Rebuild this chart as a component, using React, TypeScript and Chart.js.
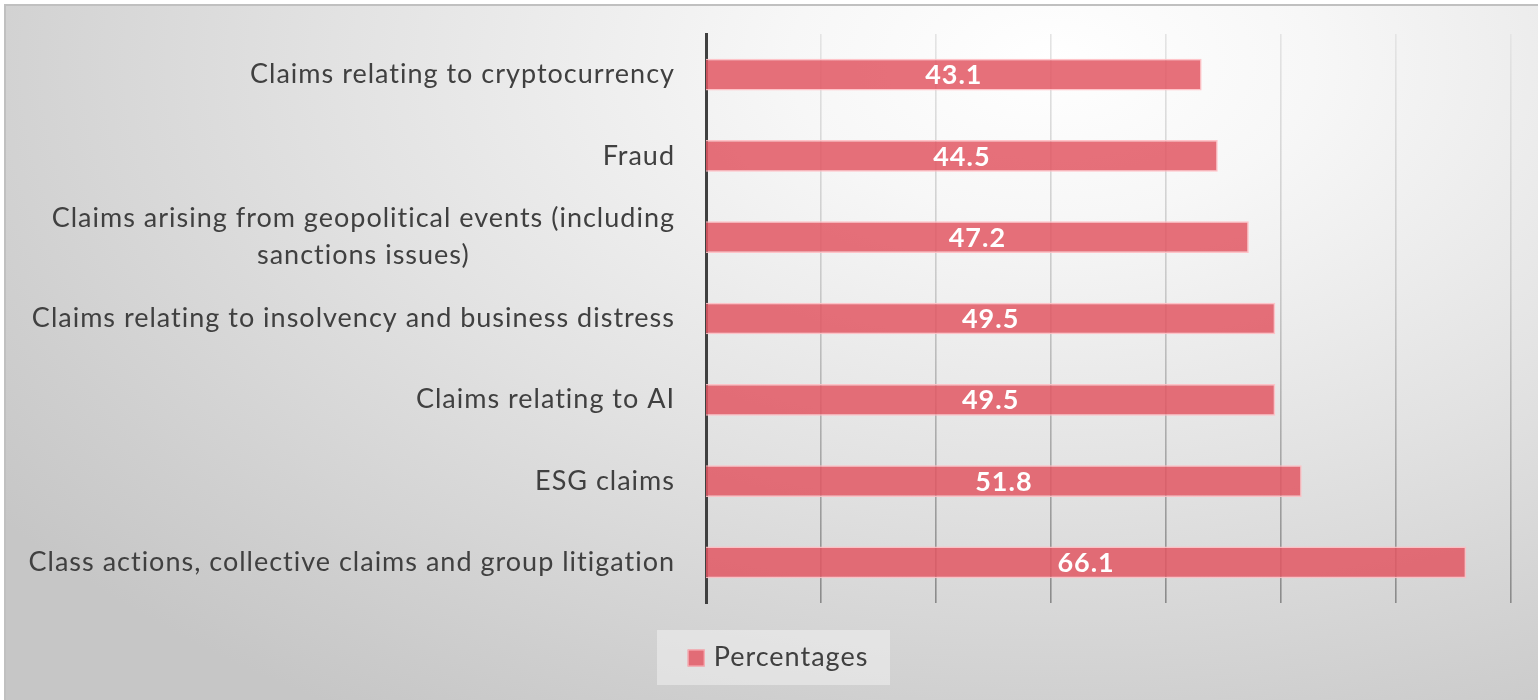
import React, { useEffect, useRef } from "react";
import { Chart, registerables } from "chart.js";

Chart.register(...registerables);

const categories: (string | string[])[] = [
  "Claims relating to cryptocurrency",
  "Fraud",
  ["Claims arising from geopolitical events (including", "sanctions issues)"],
  "Claims relating to insolvency and business distress",
  "Claims relating to AI",
  "ESG claims",
  "Class actions, collective claims and group litigation",
];
const percentages = [43.1, 44.5, 47.2, 49.5, 49.5, 51.8, 66.1];
const seriesName = "Percentages";
const axisMin = 0;
const axisMax = 70;
const axisStep = 10;

const FONT = "Lato, 'Open Sans', sans-serif";
const TEXT_COLOR = "#404040";

const W = 1538;
const H = 700;

const labelPlugin = {
  id: "customLabels",
  afterDraw(chart: any) {
    const c = chart.ctx;
    const yScale = chart.scales.y;
    const meta = chart.getDatasetMeta(0);
    c.save();
    // category labels
    c.font = `27px ${FONT}`;
    (c as any).letterSpacing = "1px";
    c.fillStyle = TEXT_COLOR;
    c.textBaseline = "middle";
    c.textAlign = "center";
    const rightEdge = chart.chartArea.left - 31;
    const lineH = 37;
    categories.forEach((lab, i) => {
      const lines = Array.isArray(lab) ? lab : [lab];
      const yc = yScale.getPixelForTick(i);
      const maxW = Math.max(...lines.map((l) => c.measureText(l).width));
      const cx = rightEdge - maxW / 2;
      lines.forEach((l, j) => {
        const y = yc + (j - (lines.length - 1) / 2) * lineH;
        c.fillText(l, cx, y);
      });
    });
    // data labels
    c.font = `bold 27px ${FONT}`;
    (c as any).letterSpacing = "1px";
    c.fillStyle = "#ffffff";
    meta.data.forEach((bar: any, i: number) => {
      const x = (bar.x + bar.base) / 2;
      c.fillText(String(percentages[i]), x, bar.y + 1);
    });
    // legend
    const legCx = 778;
    const legCy = 657;
    c.font = `27px ${FONT}`;
    (c as any).letterSpacing = "1px";
    const tw = c.measureText(seriesName).width;
    const box = 17;
    const gap = 9;
    const total = box + gap + tw;
    const boxX = 657;
    const boxW = 233;
    c.fillStyle = "rgba(240,240,240,0.55)";
    c.fillRect(boxX, 630, boxW, 55);
    const sx = legCx - total / 2;
    c.fillStyle = "rgba(226,87,99,0.85)";
    c.fillRect(sx, legCy - box / 2 + 1, box, box);
    c.strokeStyle = "rgba(255,190,195,0.9)";
    c.lineWidth = 1;
    c.strokeRect(sx + 0.5, legCy - box / 2 + 1.5, box - 1, box - 1);
    c.fillStyle = TEXT_COLOR;
    c.textAlign = "left";
    c.fillText(seriesName, sx + box + gap, legCy);
    c.restore();
  },
};

export default function App() {
  const ref = useRef<HTMLCanvasElement | null>(null);
  useEffect(() => {
    if (!ref.current) return;
    const chart = new Chart(ref.current, {
      type: "bar",
      data: {
        labels: categories as any,
        datasets: [
          {
            label: seriesName,
            data: percentages,
            backgroundColor: "rgba(226,87,99,0.85)",
            borderColor: "rgba(255,190,195,0.9)",
            borderWidth: 1.5,
            barPercentage: 0.39,
            categoryPercentage: 1,
          },
        ],
      },
      options: {
        indexAxis: "y",
        responsive: false,
        animation: false,
        layout: { padding: { top: 34, right: 27, bottom: 97, left: 0 } },
        plugins: {
          legend: { display: false },
          tooltip: { enabled: false },
        },
        scales: {
          x: {
            min: axisMin,
            max: axisMax,
            ticks: { display: false, stepSize: axisStep },
            border: { display: false },
            grid: {
              drawTicks: false,
              lineWidth: (ctx: any) => (ctx.index === 0 ? 0 : 1.6),
              color: (ctx: any) => {
                const chart = ctx.chart;
                const area = chart.chartArea;
                if (!area) return "#cccccc";
                const g = chart.ctx.createLinearGradient(0, area.top, 0, area.bottom);
                g.addColorStop(0, "#e4e4e4");
                g.addColorStop(0.45, "#c8c8c8");
                g.addColorStop(1, "#8a8a8a");
                return g;
              },
            },
            afterFit: (s: any) => {
              s.height = 0;
            },
          },
          y: {
            ticks: { display: false },
            grid: { display: false, drawTicks: false },
            border: { display: true, color: "#404040", width: 3 },
            afterFit: (s: any) => {
              s.width = 706;
            },
          },
        },
      },
      plugins: [labelPlugin],
    });
    return () => chart.destroy();
  }, []);

  return (
    <div
      style={{
        position: "absolute",
        left: 0,
        top: 0,
        width: W,
        height: H,
        background: "#ffffff",
        overflow: "hidden",
      }}
    >
      <div
        style={{
          position: "absolute",
          left: 4,
          top: 4,
          width: W,
          height: H,
          borderTop: "2px solid #c0c0c0",
          borderLeft: "2px solid #c0c0c0",
          background:
            "radial-gradient(ellipse 85% 110% at 68% 8%, #ffffff 0%, #f7f7f7 20%, #e2e2e2 55%, #cfcfcf 85%, #c6c6c6 100%)",
        }}
      />
      <canvas
        ref={ref}
        width={W}
        height={H}
        style={{ position: "absolute", left: 0, top: 0, width: W, height: H }}
      />
    </div>
  );
}
